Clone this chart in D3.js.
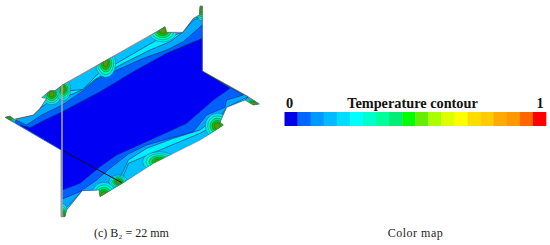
<!DOCTYPE html>
<html>
<head>
<meta charset="utf-8">
<script src="https://cdn.jsdelivr.net/npm/d3@7"></script>
<style>
  body { margin: 0; background: #fff; }
  svg { display: block; }
</style>
</head>
<body>
<svg id="chart" width="550" height="245"></svg>
<script>
// contour map, in 3x zoomed picture units
const plateOutline = [[15,352],[30,348],[42,358],[100,345],[120,325],[140,295],[125,293],[150,272],[165,272],[187,255],[470,95],[495,80],[500,97],[548,97],[580,55],[598,45],[600,18],[607,18],[607,213],[745,290],[778,312],[760,315],[735,300],[680,322],[660,367],[670,375],[640,395],[600,420],[460,490],[370,548],[300,590],[297,570],[247,572],[200,630],[195,650],[183,650],[183,450]];
const cyanBand = [[15,352],[30,348],[42,358],[100,345],[120,325],[140,295],[150,290],[187,275],[250,268],[290,225],[470,120],[510,110],[548,97],[580,55],[607,50],[607,213],[745,290],[735,300],[680,322],[660,367],[600,400],[460,458],[385,490],[365,540],[300,575],[247,572],[200,630],[183,650]];
const lightBand = [[30,352],[42,358],[100,345],[120,325],[140,310],[187,295],[250,268],[285,238],[370,190],[450,150],[510,125],[548,97],[580,60],[607,52],[607,213],[745,290],[680,322],[665,345],[620,375],[600,390],[520,415],[440,445],[385,480],[365,525],[330,550],[285,572],[247,572],[200,622],[183,640]];
const midBand = [[42,358],[80,375],[125,345],[187,315],[250,272],[290,238],[340,215],[430,175],[500,150],[550,125],[607,75],[607,213],[730,285],[680,300],[675,322],[620,345],[580,395],[510,415],[440,435],[385,462],[330,505],[290,540],[240,575],[187,597]];
const coreBand = [[60,375],[90,383],[130,362],[187,335],[300,275],[400,215],[500,160],[607,115],[607,213],[690,265],[640,300],[560,370],[450,420],[350,465],[300,500],[240,550],[187,570],[185,450]];
const flangeLine = [[185,450],[365,548]];
const webLine = [[186,255],[186,650]];
// hot spots at the flange tips: centre and reach
const hotSpots = [
  {x:27,y:355,rx:24,ry:12},{x:155,y:282,rx:30,ry:32},{x:190,y:268,rx:22,ry:34},
  {x:317,y:190,rx:30,ry:42},{x:488,y:92,rx:42,ry:34},{x:603,y:30,rx:14,ry:32},
  {x:760,y:310,rx:32,ry:16},{x:652,y:378,rx:36,ry:38},{x:478,y:485,rx:50,ry:30},
  {x:355,y:545,rx:28,ry:20},{x:312,y:585,rx:36,ry:38},{x:190,y:648,rx:14,ry:36}
];
const hotLevels = [1, 0.8, 0.62, 0.44, 0.26];
const hotColors = ["#00e8ff", "#00ffc0", "#00e070", "#10c010", "#559a00"];

const legendColors = ["#0000e6","#0066ff","#0099ff","#00bbff","#00ddff","#00ffff","#00ffcc","#00ff99","#00ee77","#00ff00","#66ee00","#aaff00","#ddff00","#ffff00","#ffdd00","#ffcc00","#ffaa00","#ff9900","#ff6600","#ff0000"];
const legendTitle = "Temperature contour";
const legendTicks = ["0", "1"];
const captions = ["(c) B\u2082 = 22 mm", "Color map"];

const svg = d3.select("#chart");
const x = d3.scaleLinear().domain([0, 1650]).range([0, 550]);
const y = d3.scaleLinear().domain([0, 735]).range([0, 245]);
const line = d3.line().x(d => x(d[0])).y(d => y(d[1]));
const poly = pts => line(pts) + "Z";

function drawPlate() {
  svg.append("filter").attr("id", "soft").append("feGaussianBlur").attr("stdDeviation", 0.35);
  svg.append("clipPath").attr("id", "plate").append("path").attr("d", poly(plateOutline));
  let root = svg.append("g").attr("filter", "url(#soft)");
  let g = root.append("g").attr("clip-path", "url(#plate)");
  g.append("path").attr("d", poly(plateOutline)).attr("fill", "#00c0ff");
  let bands = [[cyanBand, "#00f0ff"], [lightBand, "#00a8ff"], [midBand, "#0060ff"], [coreBand, "#0000f5"]];
  g.selectAll("path.band").data(bands).enter().append("path")
    .attr("class", "band")
    .attr("d", d => poly(d[0]))
    .attr("fill", d => d[1])
    .attr("stroke", "#0a2a6a")
    .attr("stroke-width", 0.6);
  for (let s of hotSpots) {
    g.selectAll(null).data(hotLevels).enter().append("ellipse")
      .attr("cx", x(s.x)).attr("cy", y(s.y))
      .attr("rx", d => x(s.rx) * d).attr("ry", d => y(s.ry) * d)
      .attr("fill", (d, i) => hotColors[i])
      .attr("stroke", "#2a4a3a").attr("stroke-width", 0.4);
  }
  root.append("path").attr("d", poly(plateOutline))
    .attr("fill", "none").attr("stroke", "#667").attr("stroke-width", 0.7);
  root.append("path").attr("d", line(flangeLine))
    .attr("fill", "none").attr("stroke", "#112").attr("stroke-width", 1);
  root.append("path").attr("d", line(webLine))
    .attr("fill", "none").attr("stroke", "#aaa").attr("stroke-width", 1.5);
}

function drawLegend() {
  let band = d3.scaleBand().domain(d3.range(legendColors.length)).range([284.5, 546]);
  svg.selectAll("rect.cell").data(legendColors).enter().append("rect")
    .attr("class", "cell")
    .attr("x", (d, i) => band(i))
    .attr("y", 112)
    .attr("width", band.bandwidth() + 0.3)
    .attr("height", 14)
    .attr("fill", d => d);
  let tickX = d3.scalePoint().domain(legendTicks).range([289.5, 540]);
  let bold = sel => sel.attr("font-family", "Liberation Serif").attr("font-weight", "bold")
    .attr("font-size", 14.3).attr("fill", "#111").attr("text-anchor", "middle");
  svg.selectAll("text.tick").data(legendTicks).enter().append("text")
    .attr("class", "tick").attr("x", d => tickX(d)).attr("y", 108).text(d => d).call(bold);
  svg.append("text").attr("x", 412.5).attr("y", 108).text(legendTitle).call(bold);
}

function drawCaptions() {
  let capX = [131.5, 415.5];
  svg.selectAll("text.cap").data(captions).enter().append("text")
    .attr("class", "cap")
    .attr("x", (d, i) => capX[i])
    .attr("y", 237)
    .attr("font-family", "Liberation Serif")
    .attr("font-size", 12)
    .attr("letter-spacing", (d, i) => i ? 0.5 : 0)
    .attr("fill", "#222")
    .attr("text-anchor", "middle")
    .text(d => d);
}

drawPlate();
drawLegend();
drawCaptions();
</script>
</body>
</html>
